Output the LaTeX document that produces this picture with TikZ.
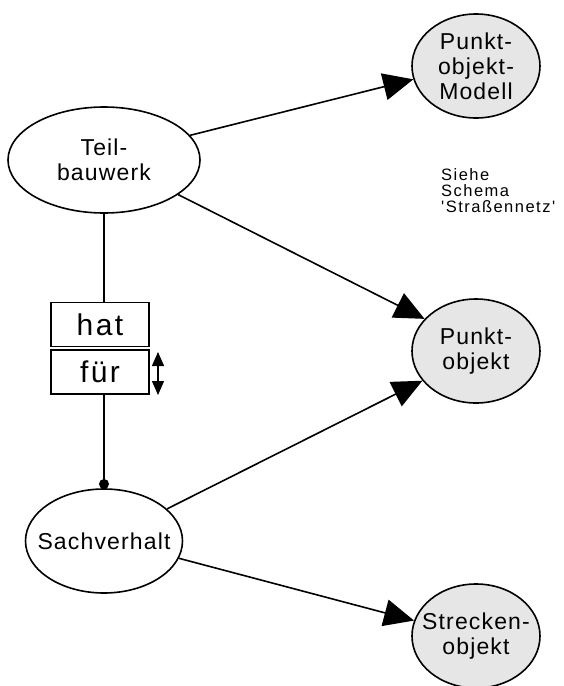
\documentclass[tikz,border=0pt]{standalone}
\usepackage{fontspec}
\setmainfont{Liberation Sans}
\newfontfamily\labfont[LetterSpace=5]{Liberation Sans}
\newfontfamily\boxfont[LetterSpace=8]{Liberation Sans}
\newfontfamily\notefont[LetterSpace=9]{Liberation Sans}
\usetikzlibrary{shapes.geometric,arrows.meta}
\definecolor{ellgray}{HTML}{E6E6E6}
\begin{document}
\begin{tikzpicture}[x=1pt,y=-1pt,
  ent/.style={ellipse,draw=black,line width=1.6pt,fill=white,inner sep=0pt,align=center,
    font=\labfont\fontsize{23}{25}\selectfont},
  grayent/.style={ent,fill=ellgray,inner xsep=-30pt,inner ysep=-20pt,minimum width=128pt,minimum height=104pt},
  relbox/.style={rectangle,draw=black,line width=1.6pt,fill=white,minimum width=98pt,minimum height=44pt,
    inner sep=0pt,font=\boxfont\fontsize{30}{30}\selectfont},
  conn/.style={line width=1.6pt},
  bigarrow/.style={conn,-{Triangle[length=30pt,width=27pt]}},
  note/.style={inner sep=0pt,align=left,font=\notefont\fontsize{16.5}{16}\selectfont}]
\useasboundingbox (0,0) rectangle (564,686);
\node[ent,minimum width=192pt,minimum height=106pt] (tb) at (104,160) {Teil-\\bauwerk};
\node[ent,inner xsep=-30pt,minimum width=157pt,minimum height=104pt] (sv) at (104,541) {Sachverhalt};
\node[grayent] (pom) at (476,66) {Punkt-\\objekt-\\Modell};
\node[grayent] (po) at (476,351) {Punkt-\\objekt};
\node[grayent] (so) at (476,636) {Strecken-\\objekt};
\node[relbox] (hat) at (100,324.5) {hat};
\node[relbox] (fuer) at (100,372) {für};
\node[note,anchor=north west] (siehe) at (441,168) {Siehe\\Schema\\'Straßennetz'};
\coordinate (dot) at (104,484);
\coordinate (dtop) at (158,352);
\coordinate (dbot) at (158,395);
\draw[conn] (tb.south) -- (tb.south |- hat.north);
\draw[conn] (tb.south |- fuer.south) -- (dot);
\fill (dot) circle (5pt);
\draw[conn] (dot) -- (sv.north);
\draw[line width=1.3pt,{Triangle[length=14pt,width=12pt]}-{Triangle[length=14pt,width=12pt]}] (dtop) -- (dbot);
\draw[bigarrow] (tb.16.7) -- (pom.192);
\draw[bigarrow] (tb.-25) -- (po.148);
\draw[bigarrow] (sv.27) -- (po.209.6);
\draw[bigarrow] (sv.-13.7) -- (so.166);
\end{tikzpicture}
\end{document}
